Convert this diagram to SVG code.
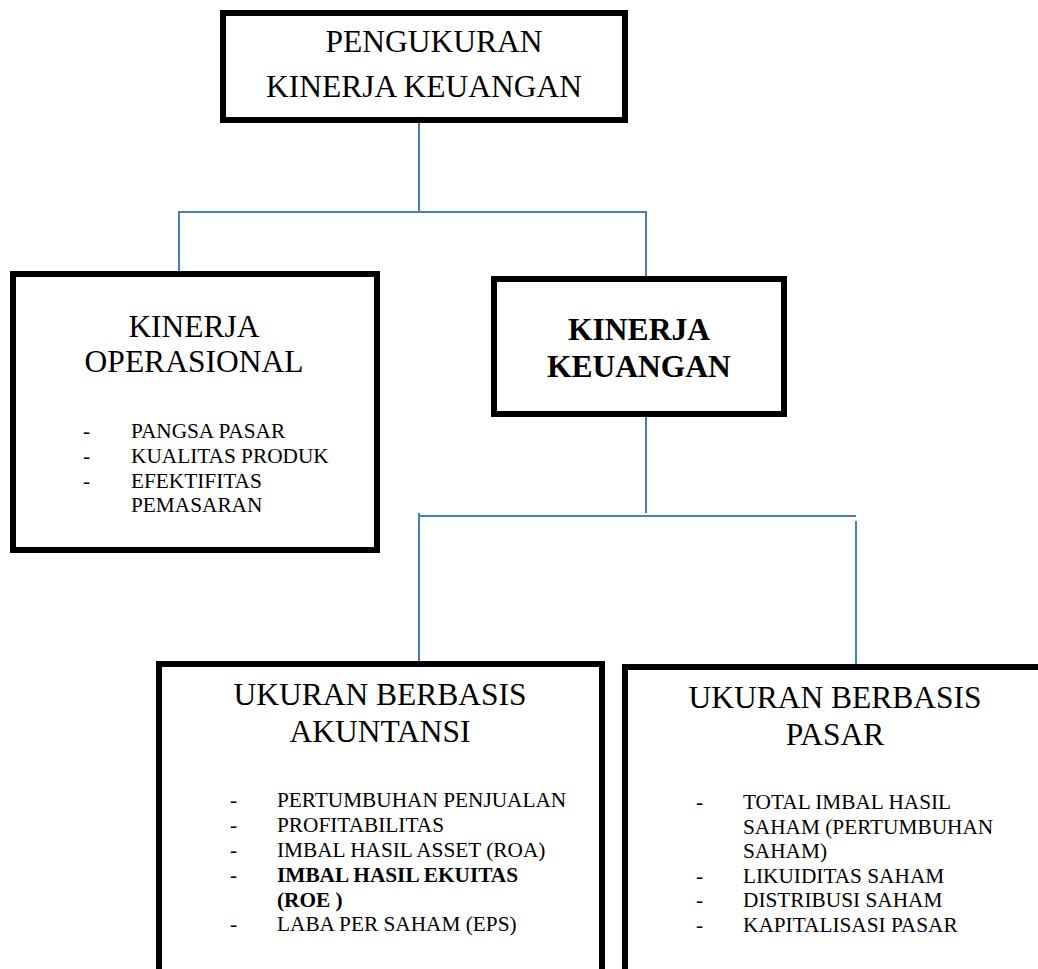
<svg xmlns="http://www.w3.org/2000/svg" width="1038" height="969" viewBox="0 0 1038 969">
<style>
.box{fill:#fff;stroke:#000;stroke-width:6}
.t{font-family:"Liberation Serif","Times New Roman",serif;fill:#000}
.title{font-size:31.5px;text-anchor:middle}
.bold{font-weight:bold}
.li{font-size:21.3px}
.c{fill:none;stroke:#4a7ebb;stroke-width:2}
</style>
<rect width="1038" height="969" fill="#fff"/>
<g id="connectors">
<path class="c" d="M419,123 V212 M179,212 H646 M179,211 V274 M646,211 V279"/>
<path class="c" d="M646,417 V513 M419,516 H856 M419,513 V664 M856,521 V674"/>
</g>
<g id="node-top">
<rect class="box" x="223" y="13" width="402" height="107"/>
<text class="t title" x="434" y="52">PENGUKURAN</text>
<text class="t title" x="424" y="97">KINERJA KEUANGAN</text>
</g>
<g id="node-operasional">
<rect class="box" x="13" y="274" width="364" height="276"/>
<text class="t title" x="194" y="337">KINERJA</text>
<text class="t title" x="194" y="372">OPERASIONAL</text>
<g class="t li">
<text x="83" y="438">-</text><text x="131" y="438">PANGSA PASAR</text>
<text x="83" y="463">-</text><text x="131" y="463">KUALITAS PRODUK</text>
<text x="83" y="488">-</text><text x="131" y="488">EFEKTIFITAS</text>
<text x="131" y="512">PEMASARAN</text>
</g>
</g>
<g id="node-keuangan">
<rect class="box" x="494" y="279" width="290" height="135"/>
<text class="t title bold" x="639" y="340">KINERJA</text>
<text class="t title bold" x="639" y="377">KEUANGAN</text>
</g>
<g id="node-akuntansi">
<rect class="box" x="159" y="664" width="443" height="400"/>
<text class="t title" x="380" y="705">UKURAN BERBASIS</text>
<text class="t title" x="380" y="742">AKUNTANSI</text>
<g class="t li">
<text x="230" y="807">-</text><text x="277" y="807">PERTUMBUHAN PENJUALAN</text>
<text x="230" y="832">-</text><text x="277" y="832">PROFITABILITAS</text>
<text x="230" y="857">-</text><text x="277" y="857">IMBAL HASIL ASSET (ROA)</text>
<text x="230" y="882">-</text><text x="277" y="882" class="bold">IMBAL HASIL EKUITAS</text>
<text x="277" y="907" class="bold">(ROE )</text>
<text x="230" y="931">-</text><text x="277" y="931">LABA PER SAHAM (EPS)</text>
</g>
</g>
<g id="node-pasar">
<rect class="box" x="625" y="667" width="500" height="400"/>
<text class="t title" x="835" y="708">UKURAN BERBASIS</text>
<text class="t title" x="835" y="745">PASAR</text>
<g class="t li">
<text x="696" y="809">-</text><text x="743" y="809">TOTAL IMBAL HASIL</text>
<text x="743" y="834">SAHAM (PERTUMBUHAN</text>
<text x="743" y="858">SAHAM)</text>
<text x="696" y="883">-</text><text x="743" y="883">LIKUIDITAS SAHAM</text>
<text x="696" y="907">-</text><text x="743" y="907">DISTRIBUSI SAHAM</text>
<text x="696" y="932">-</text><text x="743" y="932">KAPITALISASI PASAR</text>
</g>
</g>
</svg>
